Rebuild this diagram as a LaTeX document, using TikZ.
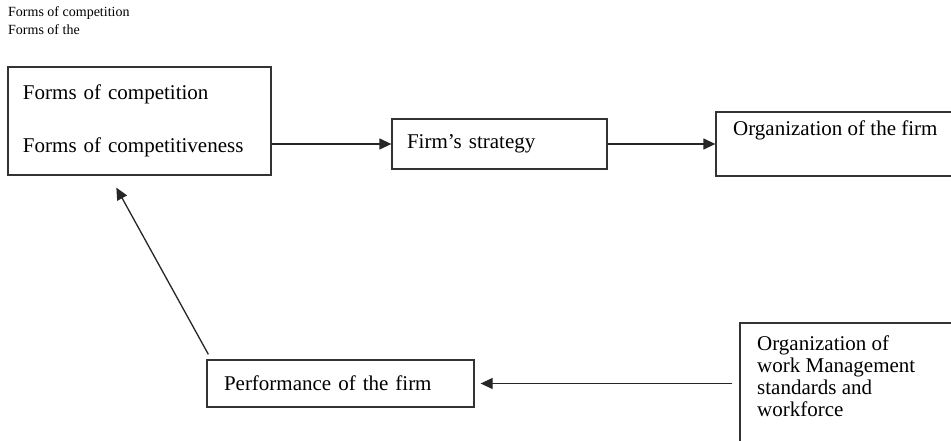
\documentclass[tikz,border=0pt]{standalone}
\usepackage{fontspec}
\setmainfont{Liberation Serif}
\usetikzlibrary{arrows.meta}

\begin{document}
\begin{tikzpicture}[x=1pt, y=1pt,
	frame/.style={draw=black!80, line width=1.3pt, rectangle, inner sep=0pt},
	boxtext/.style={font=\fontsize{21}{22}\selectfont, align=left},
	link/.style={draw=black!85, line width=1.3pt, -{Triangle[length=12pt, width=11pt]}}]
	\useasboundingbox (0,0) rectangle (951,-441);

	\node[anchor=north west, inner sep=0pt, align=left, font=\fontsize{14}{18}\selectfont] (heading) at (8,-6) {Forms of competition\\Forms of the};

	\node[frame, boxtext, minimum width=263pt, minimum height=108pt, text width=233pt, inner xsep=15pt] (forms) at (139.5,-121) {Forms of competition\\[31pt]Forms of competitiveness};
	\node[frame, boxtext, minimum width=215pt, minimum height=50pt, text width=185pt, inner xsep=15pt] (strategy) at (499.5,-144) {Firm's strategy};
	\node[frame, minimum width=244pt, minimum height=64pt] (organization) at (838,-144) {};
	\node[boxtext, anchor=north west, inner sep=0pt] (orgtext) at (733,-121) {Organization of the firm};
	\node[frame, boxtext, minimum width=267pt, minimum height=47pt, text width=233pt, inner xsep=17pt, inner ysep=0pt] (performance) at (340.5,-383.5) {Performance of the firm};
	\node[frame, minimum width=220pt, minimum height=127pt] (work) at (850,-386.5) {};
	\node[boxtext, anchor=north west, inner sep=0pt] (worktext) at (757,-336) {Organization of\\work Management\\standards and\\workforce};

	\draw[link] (forms.east |- strategy.west) -- (strategy.west);
	\draw[link] (strategy.east) -- (organization.west);
	\draw[link, shorten <=7pt, shorten >=6pt] (work.west |- performance.east) -- (performance.east);
	\draw[link] ([shift={(2,5)}]performance.north west) -- ([shift={(109,-12)}]forms.south west);
\end{tikzpicture}
\end{document}
